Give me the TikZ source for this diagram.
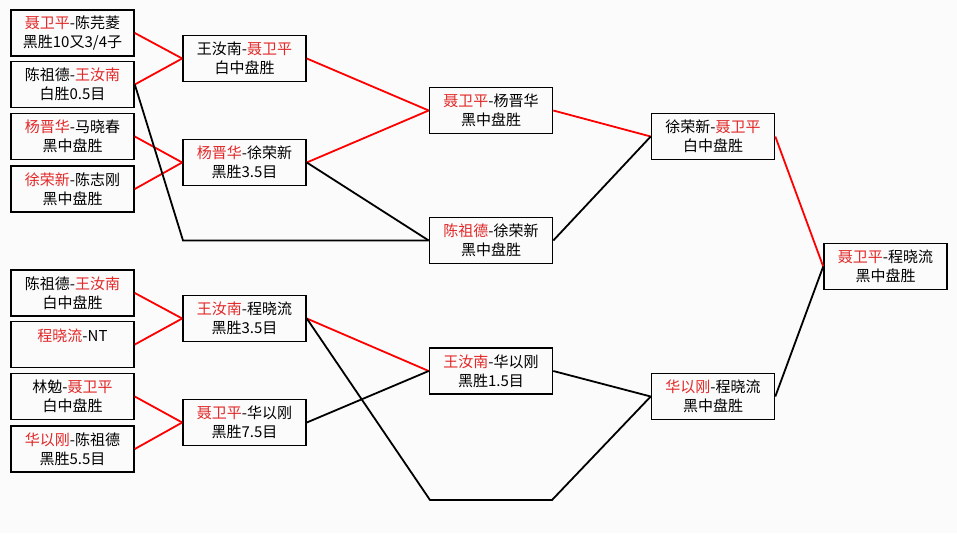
\documentclass[tikz,border=0pt]{standalone}
\usepackage{fontspec}
\newfontfamily\cjk{Noto Sans CJK SC}
\definecolor{wred}{RGB}{226,40,40}
\newcommand{\win}[1]{\textcolor{wred}{#1}}

\begin{document}
\begin{tikzpicture}[
    x=1pt, y=-1pt,
    every node/.style={draw, line width=1.6pt, minimum width=123pt, minimum height=46pt, inner sep=0pt,
      align=center, font=\cjk\fontsize{15}{19}\selectfont},
    redline/.style={draw, line width=1.8pt, red},
    blackline/.style={draw, line width=1.8pt, black}
  ]
  \path[fill=gray!3] (0,0) rectangle (957,533);

  % first round
  \node (p1) at (72.5,33)  {\win{聂卫平}-陈芫菱\\黑胜10又3/4子};
  \node (p2) at (72.5,84.5) {陈祖德-\win{王汝南}\\白胜0.5目};
  \node (p3) at (72.5,136.5) {\win{杨晋华}-马晓春\\黑中盘胜};
  \node (p4) at (72.5,189) {\win{徐荣新}-陈志刚\\黑中盘胜};
  \node (p5) at (72.5,293) {陈祖德-\win{王汝南}\\白中盘胜};
  \node (p6) at (72.5,344.5) {\win{程晓流}-NT\\~};
  \node (p7) at (72.5,396.5) {林勉-\win{聂卫平}\\白中盘胜};
  \node (p8) at (72.5,449) {\win{华以刚}-陈祖德\\黑胜5.5目};

  % second round
  \node (q1) at (244.5,58.5) {王汝南-\win{聂卫平}\\白中盘胜};
  \node (q2) at (244.5,162.5) {\win{杨晋华}-徐荣新\\黑胜3.5目};
  \node (q3) at (244.5,318.5) {\win{王汝南}-程晓流\\黑胜3.5目};
  \node (q4) at (244.5,422.5) {\win{聂卫平}-华以刚\\黑胜7.5目};

  % third round
  \node (r1) at (491,110.5) {\win{聂卫平}-杨晋华\\黑中盘胜};
  \node (r2) at (491,240.5) {\win{陈祖德}-徐荣新\\黑中盘胜};
  \node (r3) at (491,371) {\win{王汝南}-华以刚\\黑胜1.5目};

  % semi final and final
  \node (s1) at (713,136.5) {徐荣新-\win{聂卫平}\\白中盘胜};
  \node (s2) at (713,396.5) {\win{华以刚}-程晓流\\黑中盘胜};
  \node (fin) at (885.5,266.5) {\win{聂卫平}-程晓流\\黑中盘胜};

  \coordinate (bendA) at (183,240.5);
  \coordinate (bendB) at (430,500);
  \coordinate (bendC) at (552,500);

  \draw[redline] (p1.east) -- (q1.west);
  \draw[redline] (p2.east) -- (q1.west);
  \draw[redline] (p3.east) -- (q2.west);
  \draw[redline] (p4.east) -- (q2.west);
  \draw[redline] (p5.east) -- (q3.west);
  \draw[redline] (p6.east) -- (q3.west);
  \draw[redline] (p7.east) -- (q4.west);
  \draw[redline] (p8.east) -- (q4.west);
  \draw[blackline] (p2.east) -- (bendA) -- (r2.west);

  \draw[redline] (q1.east) -- (r1.west);
  \draw[redline] (q2.east) -- (r1.west);
  \draw[blackline] (q2.east) -- (r2.west);
  \draw[redline] (q3.east) -- (r3.west);
  \draw[blackline] (q4.east) -- (r3.west);
  \draw[blackline] (q3.east) -- (bendB) -- (bendC) -- (s2.west);

  \draw[redline] (r1.east) -- (s1.west);
  \draw[blackline] (r2.east) -- (s1.west);
  \draw[blackline] (r3.east) -- (s2.west);

  \draw[redline] (s1.east) -- (fin.west);
  \draw[blackline] (s2.east) -- (fin.west);
\end{tikzpicture}
\end{document}
